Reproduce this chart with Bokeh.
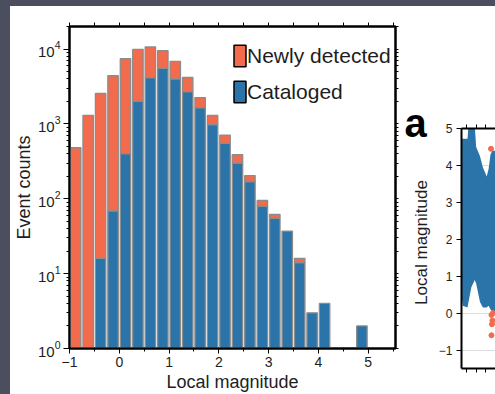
import math

from bokeh.plotting import figure
from bokeh.models import (Range1d, FixedTicker, LogAxis, LinearAxis, Legend,
                          LegendItem, Label)
from bokeh.layouts import row
from bokeh.embed import file_html
from bokeh.resources import INLINE

# ---- Histogram of local magnitudes (0.25-wide bins, centres) ----
mag_bins = [-0.875, -0.625, -0.375, -0.125, 0.125, 0.375, 0.625, 0.875,
            1.125, 1.375, 1.625, 1.875, 2.125, 2.375, 2.625, 2.875,
            3.125, 3.375, 3.625, 3.875, 4.125, 4.375, 4.625, 4.875]
cataloged = [0, 0, 16, 69, 400, 2000, 4150, 5500, 4000, 2700, 1650, 980,
             550, 300, 170, 80, 55, 37, 14, 3, 4, 0, 0, 2]
newly_detected = [480, 1300, 2530, 4330, 7030, 7900, 6500, 4000, 2830, 1470,
                  600, 314, 159, 89, 34, 15, 7, 0, 2, 0, 0, 0, 0, 0]

x_ticks = [-1, 0, 1, 2, 3, 4, 5]
x_tick_labels = ["\u22121", "0", "1", "2", "3", "4", "5"]
x_minor_ticks = [-0.5, 0.5, 1.5, 2.5, 3.5, 4.5, 5.5]
y_ticks = [1, 10, 100, 1000, 10000]

# ---- Panel a: magnitude through time (envelope of the catalogue cloud) ----
a_time = [0.47, 0.6, 1.1, 1.2, 1.5, 1.85, 2.0, 2.4, 2.7, 3.1, 3.3, 3.5, 3.7, 4.02]
a_upper = [4.72, 4.72, 4.72, 5.1, 5.1, 5.1, 4.5, 4.25, 3.95, 3.7, 3.9, 4.3, 4.4, 4.4]
a_lower = [0.45, 0.2, 0.15, 0.3, 0.7, 0.9, 0.8, 0.3, 0.15, 0.15, 0.2, 0.1, 0.05, 0.05]
a_new_time = [3.55, 3.6, 3.65, 3.6, 3.75, 3.7]
a_new_mag = [4.45, -0.05, -0.3, -0.6, 0.0, -0.2]
a_y_ticks = [-1, 0, 1, 2, 3, 4, 5]
a_y_tick_labels = ["\u22121", "0", "1", "2", "3", "4", "5"]

ORANGE = "#F26B4C"
BLUE = "#2B74A9"
EDGE = "#8c8c8c"
FONT = "Liberation Sans"
INK = "#1e1e1e"
SLIDE = "#4a4e5e"
BAR_W = 0.21


def style_axis(ax, tick_out=5, minor_out=3):
    ax.axis_line_color = "black"
    ax.axis_line_width = 2
    ax.major_tick_line_color = "black"
    ax.minor_tick_line_color = "black"
    ax.major_tick_line_width = 1
    ax.minor_tick_line_width = 1
    ax.major_tick_in = 0
    ax.minor_tick_in = 0
    ax.major_tick_out = tick_out
    ax.minor_tick_out = minor_out
    ax.major_label_text_font = FONT
    ax.major_label_text_color = INK
    ax.axis_label_text_font = FONT
    ax.axis_label_text_color = INK
    ax.axis_label_text_font_style = "normal"


# ---------------- main histogram ----------------
p = figure(width=390, height=388, y_axis_type="log",
           x_range=Range1d(-1, 5.55), y_range=Range1d(1, 20000),
           output_backend="svg", toolbar_location=None,
           min_border_left=52, min_border_right=5,
           min_border_top=20, min_border_bottom=46)
p.frame_align = False
p.margin = (6, 0, 0, 10)
p.background_fill_color = "white"
p.border_fill_color = "white"
p.xgrid.visible = False
p.ygrid.visible = False
p.outline_line_color = "black"
p.outline_line_width = 2

# cataloged part (from the bottom of the axis)
cat_x = [m for m, c in zip(mag_bins, cataloged) if c > 0]
cat_top = [c for c in cataloged if c > 0]
cat_bottom = [1] * len(cat_top)

# newly detected part stacked on top of the cataloged counts
new_x, new_bottom, new_top = [], [], []
for m, c, n in zip(mag_bins, cataloged, newly_detected):
    if n > 0:
        new_x.append(m)
        new_bottom.append(c if c > 0 else 1)
        new_top.append(c + n)

p.vbar(x=cat_x, bottom=cat_bottom, top=cat_top, width=BAR_W,
       fill_color=BLUE, line_color=EDGE, line_width=1.3)
p.vbar(x=new_x, bottom=new_bottom, top=new_top, width=BAR_W,
       fill_color=ORANGE, line_color=EDGE, line_width=1.3)

# legend keys with dark outlines (no visible mark of their own)
nan = float("nan")
key_new = p.vbar(x=[nan], top=[nan], width=BAR_W, fill_color=ORANGE,
                 line_color="black", line_width=1.5)
key_cat = p.vbar(x=[nan], top=[nan], width=BAR_W, fill_color=BLUE,
                 line_color="black", line_width=1.5)
legend = Legend(items=[LegendItem(label="Newly detected", renderers=[key_new], index=0),
                       LegendItem(label="Cataloged", renderers=[key_cat], index=0)],
                location=(163, 243), orientation="vertical",
                glyph_width=15, glyph_height=27, label_standoff=0,
                spacing=9, padding=0, margin=0,
                label_text_font=FONT, label_text_font_size="21px",
                label_text_color=INK, label_height=27,
                border_line_alpha=0, background_fill_alpha=0)
p.add_layout(legend)

# bottom axis
xa = p.xaxis[0]
xa.ticker = FixedTicker(ticks=x_ticks, minor_ticks=x_minor_ticks)
xa.major_label_overrides = dict(zip(x_ticks, x_tick_labels))
xa.axis_label = "Local magnitude"
style_axis(xa, 5, 3)
xa.major_label_text_font_size = "14px"
xa.major_label_standoff = 3
xa.axis_label_text_font_size = "18px"
xa.axis_label_standoff = 2

# left axis
ya = p.yaxis[0]
ya.ticker = FixedTicker(ticks=y_ticks,
                        minor_ticks=[k * d for d in (1, 10, 100, 1000, 10000)
                                     for k in range(2, 10)])
ya.axis_label = "Event counts"
style_axis(ya, 6, 3)
ya.major_label_text_font_size = "15px"
ya.major_label_standoff = 3
ya.axis_label_text_font_size = "18px"
ya.axis_label_standoff = 1

# tick-only axes on top and right
top_ax = LinearAxis(ticker=FixedTicker(ticks=[], minor_ticks=x_ticks + x_minor_ticks))
style_axis(top_ax, 4, 4)
p.add_layout(top_ax, "above")

right_ax = LogAxis(ticker=FixedTicker(ticks=[],
                   minor_ticks=[k * d for d in (1, 10, 100, 1000, 10000)
                                for k in range(1, 10)]))
style_axis(right_ax, 4, 3)
p.add_layout(right_ax, "right")

# ---------------- panel a: heading and axis title strip ----------------
strip_w, strip_h = 35, 388
r = figure(width=strip_w, height=strip_h,
           x_range=Range1d(0, strip_w), y_range=Range1d(0, strip_h),
           output_backend="svg", toolbar_location=None,
           x_axis_location=None, y_axis_location=None,
           min_border=0)
r.frame_align = False
r.margin = (6, 0, 0, 0)
r.outline_line_color = None
r.background_fill_color = "white"
r.border_fill_color = "white"
r.xgrid.visible = False
r.ygrid.visible = False
r.add_layout(Label(x=4, y=272, text="a", text_font=FONT,
                   text_font_style="bold", text_font_size="40px",
                   text_color="black", text_baseline="alphabetic"))
r.add_layout(Label(x=21, y=152, text="Local magnitude", angle=math.pi / 2,
                   text_font=FONT, text_font_size="17px", text_color=INK,
                   text_align="center", text_baseline="middle"))

# ---------------- panel a: magnitude plot (partly shown) ----------------
q = figure(width=60, height=388,
           x_range=Range1d(0.47, 4.02), y_range=Range1d(-1.5, 5.0),
           output_backend="svg", toolbar_location=None,
           min_border_left=22, min_border_right=0,
           min_border_top=122, min_border_bottom=26)
q.frame_align = False
q.margin = (6, 0, 0, 0)
q.background_fill_color = "white"
q.border_fill_color = "white"
q.outline_line_color = None
q.xgrid.visible = False
q.ygrid.ticker = FixedTicker(ticks=a_y_ticks)
q.ygrid.grid_line_color = "#dcdcdc"

q.varea(x=a_time, y1=a_lower, y2=a_upper, fill_color=BLUE)
q.scatter(a_new_time, a_new_mag, size=5, color=ORANGE)

qx = q.xaxis[0]
qx.ticker = FixedTicker(ticks=[], minor_ticks=[1, 2, 3, 4])
style_axis(qx, 4, 4)

qy = q.yaxis[0]
qy.ticker = FixedTicker(ticks=a_y_ticks)
qy.major_label_overrides = dict(zip(a_y_ticks, a_y_tick_labels))
style_axis(qy, 5, 0)
qy.major_label_text_font_size = "12px"
qy.major_label_standoff = 4

q_top = LinearAxis(ticker=FixedTicker(ticks=[], minor_ticks=[1, 2, 3, 4]))
style_axis(q_top, 4, 4)
q.add_layout(q_top, "above")

layout = row(p, r, q, spacing=0, styles={
    "background": "linear-gradient(#ffffff, #ffffff) 10px 6px / 485px 388px no-repeat, " + SLIDE})

open("out.html", "w").write(file_html(layout, INLINE))
